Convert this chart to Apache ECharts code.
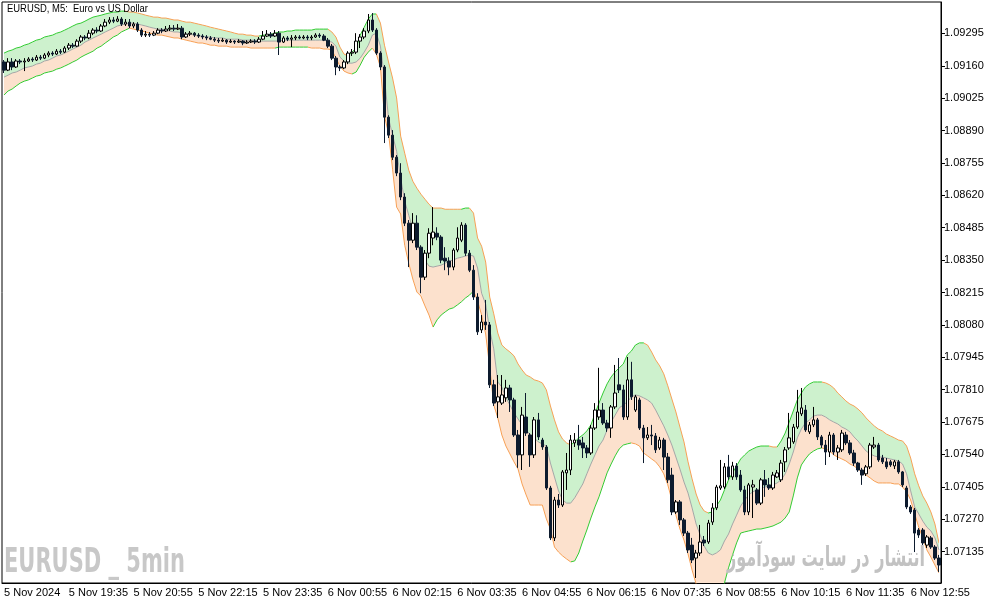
<!DOCTYPE html>
<html>
<head>
<meta charset="UTF-8">
<title>EURUSD M5</title>
<script src="https://cdn.jsdelivr.net/npm/echarts@6/dist/echarts.min.js"></script>
<style>
  html, body { margin: 0; padding: 0; background: #fff; }
  #main { width: 994px; height: 605px; }
</style>
</head>
<body>
<div id="main"></div>
<script>
// bars: 5 Nov 18:15 .. 6 Nov 13:30, one every 5 minutes
var openP = [
1.09176,1.09142,1.09176,1.09155,1.09180,1.09176,1.09180,1.09188,1.09184,1.09196,
1.09192,1.09205,1.09213,1.09209,1.09221,1.09217,1.09234,1.09246,1.09242,1.09263,
1.09280,1.09276,1.09296,1.09309,1.09305,1.09326,1.09342,1.09351,1.09346,1.09355,
1.09334,1.09342,1.09326,1.09334,1.09309,1.09288,1.09292,1.09288,1.09296,1.09309,
1.09305,1.09313,1.09317,1.09313,1.09317,1.09280,1.09292,1.09296,1.09288,1.09284,
1.09280,1.09276,1.09271,1.09267,1.09263,1.09267,1.09259,1.09263,1.09259,1.09263,
1.09255,1.09259,1.09263,1.09259,1.09271,1.09284,1.09292,1.09284,1.09296,1.09259,
1.09276,1.09271,1.09276,1.09280,1.09276,1.09280,1.09276,1.09280,1.09288,1.09284,
1.09267,1.09242,1.09192,1.09155,1.09151,1.09176,1.09213,1.09217,1.09263,1.09280,
1.09305,1.09351,1.09309,1.09213,1.09155,1.08946,1.08871,1.08779,1.08713,1.08613,
1.08504,1.08433,1.08504,1.08404,1.08279,1.08379,1.08442,1.08462,1.08446,1.08358,
1.08346,1.08321,1.08392,1.08433,1.08496,1.08379,1.08308,1.08196,1.08059,1.08092,
1.08080,1.07830,1.07759,1.07754,1.07776,1.07817,1.07767,1.07621,1.07538,1.07696,
1.07621,1.07538,1.07684,1.07600,1.07571,1.07400,1.07192,1.07350,1.07329,1.07463,
1.07475,1.07588,1.07600,1.07588,1.07567,1.07546,1.07650,1.07696,1.07725,1.07671,
1.07650,1.07738,1.07830,1.07809,1.07696,1.07851,1.07725,1.07767,1.07650,1.07609,
1.07621,1.07617,1.07567,1.07600,1.07529,1.07454,1.07300,1.07342,1.07267,1.07212,
1.07162,1.07108,1.07129,1.07183,1.07175,1.07258,1.07317,1.07400,1.07404,1.07488,
1.07446,1.07492,1.07454,1.07392,1.07300,1.07404,1.07392,1.07337,1.07434,1.07413,
1.07400,1.07446,1.07434,1.07509,1.07567,1.07592,1.07654,1.07709,1.07725,1.07634,
1.07663,1.07684,1.07613,1.07579,1.07550,1.07621,1.07550,1.07559,1.07621,1.07588,
1.07546,1.07504,1.07475,1.07459,1.07488,1.07571,1.07579,1.07525,1.07509,1.07509,
1.07492,1.07509,1.07467,1.07400,1.07321,1.07308,1.07225,1.07225,1.07162,1.07192,
1.07154,1.07108
];
var closeP = [
1.09142,1.09176,1.09155,1.09180,1.09176,1.09180,1.09188,1.09184,1.09196,1.09192,
1.09205,1.09213,1.09209,1.09221,1.09217,1.09234,1.09246,1.09242,1.09263,1.09280,
1.09276,1.09296,1.09309,1.09305,1.09326,1.09342,1.09351,1.09346,1.09355,1.09334,
1.09342,1.09326,1.09334,1.09309,1.09288,1.09292,1.09288,1.09296,1.09309,1.09305,
1.09313,1.09317,1.09313,1.09317,1.09280,1.09292,1.09296,1.09288,1.09284,1.09280,
1.09276,1.09271,1.09267,1.09263,1.09267,1.09259,1.09263,1.09259,1.09263,1.09255,
1.09259,1.09263,1.09259,1.09271,1.09284,1.09292,1.09284,1.09296,1.09259,1.09276,
1.09271,1.09276,1.09280,1.09276,1.09280,1.09276,1.09280,1.09288,1.09284,1.09267,
1.09242,1.09192,1.09155,1.09151,1.09176,1.09213,1.09217,1.09263,1.09280,1.09305,
1.09351,1.09309,1.09213,1.09155,1.08946,1.08871,1.08779,1.08713,1.08613,1.08504,
1.08433,1.08504,1.08404,1.08279,1.08379,1.08462,1.08467,1.08446,1.08350,1.08346,
1.08321,1.08392,1.08442,1.08496,1.08379,1.08308,1.08196,1.08051,1.08092,1.08080,
1.07830,1.07754,1.07780,1.07788,1.07817,1.07767,1.07621,1.07538,1.07704,1.07629,
1.07538,1.07684,1.07613,1.07571,1.07400,1.07192,1.07350,1.07329,1.07467,1.07475,
1.07600,1.07600,1.07579,1.07567,1.07546,1.07650,1.07725,1.07725,1.07671,1.07650,
1.07738,1.07796,1.07809,1.07696,1.07851,1.07780,1.07780,1.07650,1.07609,1.07621,
1.07617,1.07559,1.07600,1.07529,1.07434,1.07300,1.07342,1.07267,1.07212,1.07142,
1.07100,1.07129,1.07175,1.07171,1.07254,1.07317,1.07404,1.07409,1.07488,1.07446,
1.07492,1.07446,1.07392,1.07300,1.07413,1.07413,1.07337,1.07434,1.07413,1.07400,
1.07454,1.07463,1.07504,1.07559,1.07609,1.07654,1.07717,1.07734,1.07642,1.07663,
1.07684,1.07613,1.07579,1.07550,1.07621,1.07550,1.07567,1.07629,1.07588,1.07546,
1.07504,1.07475,1.07454,1.07488,1.07579,1.07579,1.07517,1.07509,1.07488,1.07496,
1.07509,1.07467,1.07413,1.07321,1.07300,1.07212,1.07204,1.07171,1.07196,1.07154,
1.07108,1.07079
];
var highP = [
1.09184,1.09192,1.09192,1.09188,1.09188,1.09192,1.09196,1.09196,1.09205,1.09205,
1.09213,1.09221,1.09221,1.09230,1.09230,1.09242,1.09255,1.09255,1.09271,1.09288,
1.09288,1.09309,1.09317,1.09321,1.09334,1.09355,1.09363,1.09363,1.09367,1.09363,
1.09355,1.09355,1.09342,1.09342,1.09317,1.09305,1.09301,1.09305,1.09317,1.09317,
1.09326,1.09330,1.09330,1.09334,1.09326,1.09301,1.09305,1.09301,1.09296,1.09292,
1.09288,1.09284,1.09280,1.09276,1.09276,1.09271,1.09271,1.09267,1.09271,1.09267,
1.09267,1.09271,1.09271,1.09280,1.09305,1.09309,1.09301,1.09309,1.09305,1.09284,
1.09284,1.09288,1.09288,1.09288,1.09288,1.09288,1.09288,1.09296,1.09296,1.09292,
1.09276,1.09251,1.09201,1.09163,1.09184,1.09221,1.09230,1.09296,1.09292,1.09317,
1.09376,1.09380,1.09317,1.09221,1.09163,1.08954,1.08892,1.08788,1.08754,1.08629,
1.08517,1.08546,1.08537,1.08412,1.08392,1.08483,1.08571,1.08487,1.08454,1.08404,
1.08362,1.08400,1.08487,1.08508,1.08504,1.08392,1.08329,1.08212,1.08121,1.08184,
1.08092,1.07851,1.07871,1.07871,1.07851,1.07830,1.07776,1.07642,1.07738,1.07796,
1.07629,1.07696,1.07713,1.07609,1.07579,1.07409,1.07363,1.07375,1.07475,1.07546,
1.07621,1.07629,1.07663,1.07613,1.07579,1.07663,1.07754,1.07901,1.07754,1.07684,
1.07746,1.07913,1.07942,1.07830,1.07946,1.07926,1.07788,1.07776,1.07663,1.07654,
1.07663,1.07629,1.07613,1.07609,1.07546,1.07484,1.07350,1.07350,1.07275,1.07221,
1.07192,1.07142,1.07246,1.07200,1.07267,1.07337,1.07413,1.07517,1.07504,1.07538,
1.07509,1.07504,1.07475,1.07409,1.07421,1.07434,1.07400,1.07442,1.07475,1.07442,
1.07467,1.07475,1.07517,1.07571,1.07713,1.07667,1.07809,1.07817,1.07746,1.07675,
1.07738,1.07692,1.07621,1.07600,1.07634,1.07629,1.07579,1.07642,1.07634,1.07600,
1.07559,1.07509,1.07484,1.07496,1.07588,1.07613,1.07588,1.07538,1.07525,1.07517,
1.07517,1.07517,1.07471,1.07409,1.07329,1.07317,1.07233,1.07233,1.07204,1.07200,
1.07162,1.07121
];
var lowP = [
1.09130,1.09138,1.09142,1.09151,1.09167,1.09138,1.09176,1.09176,1.09180,1.09184,
1.09188,1.09196,1.09201,1.09205,1.09209,1.09213,1.09226,1.09234,1.09238,1.09255,
1.09267,1.09271,1.09288,1.09296,1.09301,1.09321,1.09334,1.09338,1.09342,1.09326,
1.09326,1.09317,1.09317,1.09301,1.09280,1.09280,1.09280,1.09284,1.09292,1.09296,
1.09301,1.09305,1.09305,1.09309,1.09271,1.09276,1.09284,1.09280,1.09276,1.09271,
1.09267,1.09267,1.09259,1.09255,1.09259,1.09251,1.09255,1.09251,1.09255,1.09246,
1.09251,1.09255,1.09251,1.09255,1.09267,1.09280,1.09276,1.09280,1.09205,1.09255,
1.09263,1.09238,1.09267,1.09271,1.09271,1.09267,1.09267,1.09276,1.09276,1.09263,
1.09234,1.09184,1.09121,1.09138,1.09146,1.09167,1.09201,1.09209,1.09234,1.09271,
1.09296,1.09301,1.09205,1.09142,1.08838,1.08859,1.08767,1.08700,1.08600,1.08492,
1.08321,1.08421,1.08392,1.08212,1.08267,1.08358,1.08412,1.08433,1.08337,1.08308,
1.08287,1.08308,1.08383,1.08425,1.08367,1.08300,1.08184,1.08038,1.08046,1.08059,
1.07817,1.07742,1.07692,1.07746,1.07759,1.07717,1.07613,1.07484,1.07475,1.07617,
1.07488,1.07525,1.07600,1.07559,1.07392,1.07183,1.07179,1.07317,1.07321,1.07392,
1.07454,1.07571,1.07559,1.07525,1.07525,1.07538,1.07642,1.07684,1.07663,1.07634,
1.07609,1.07729,1.07796,1.07684,1.07684,1.07767,1.07717,1.07642,1.07504,1.07600,
1.07579,1.07546,1.07559,1.07475,1.07421,1.07287,1.07292,1.07246,1.07200,1.07129,
1.07087,1.07025,1.07117,1.07158,1.07167,1.07246,1.07308,1.07392,1.07396,1.07434,
1.07434,1.07434,1.07384,1.07287,1.07287,1.07275,1.07329,1.07329,1.07363,1.07392,
1.07392,1.07442,1.07425,1.07467,1.07559,1.07584,1.07646,1.07700,1.07634,1.07625,
1.07654,1.07600,1.07567,1.07496,1.07529,1.07538,1.07517,1.07550,1.07579,1.07538,
1.07492,1.07467,1.07413,1.07450,1.07479,1.07563,1.07509,1.07500,1.07479,1.07488,
1.07479,1.07459,1.07404,1.07312,1.07292,1.07133,1.07192,1.07162,1.07150,1.07146,
1.07100,1.07050
];
// channel: upper edge, centre line, lower edge
var upperBand = [
1.09213,1.09221,1.09226,1.09234,1.09238,1.09246,1.09251,1.09259,1.09267,1.09271,
1.09280,1.09284,1.09288,1.09296,1.09301,1.09309,1.09317,1.09326,1.09334,1.09338,
1.09346,1.09355,1.09363,1.09367,1.09371,1.09376,1.09380,1.09384,1.09384,1.09388,
1.09388,1.09384,1.09384,1.09380,1.09376,1.09371,1.09367,1.09363,1.09363,1.09359,
1.09359,1.09355,1.09351,1.09351,1.09346,1.09342,1.09342,1.09338,1.09334,1.09330,
1.09326,1.09321,1.09317,1.09313,1.09309,1.09305,1.09301,1.09296,1.09292,1.09292,
1.09288,1.09288,1.09284,1.09284,1.09288,1.09288,1.09292,1.09296,1.09301,1.09301,
1.09305,1.09305,1.09309,1.09309,1.09309,1.09309,1.09309,1.09313,1.09313,1.09313,
1.09313,1.09301,1.09280,1.09238,1.09209,1.09201,1.09217,1.09234,1.09288,1.09321,
1.09355,1.09376,1.09376,1.09338,1.09246,1.09176,1.09109,1.09026,1.08867,1.08796,
1.08725,1.08679,1.08650,1.08625,1.08604,1.08583,1.08567,1.08567,1.08567,1.08562,
1.08562,1.08562,1.08562,1.08562,1.08567,1.08567,1.08546,1.08442,1.08408,1.08342,
1.08196,1.08126,1.08046,1.07996,1.07980,1.07967,1.07951,1.07917,1.07892,1.07871,
1.07863,1.07851,1.07846,1.07838,1.07809,1.07742,1.07684,1.07634,1.07604,1.07588,
1.07579,1.07592,1.07609,1.07621,1.07638,1.07663,1.07709,1.07754,1.07796,1.07834,
1.07863,1.07884,1.07901,1.07917,1.07955,1.07971,1.07996,1.08005,1.08005,1.07996,
1.07967,1.07934,1.07909,1.07876,1.07826,1.07771,1.07717,1.07654,1.07592,1.07509,
1.07438,1.07375,1.07329,1.07304,1.07296,1.07300,1.07325,1.07350,1.07392,1.07434,
1.07463,1.07492,1.07521,1.07538,1.07554,1.07563,1.07571,1.07575,1.07575,1.07575,
1.07571,1.07571,1.07596,1.07629,1.07675,1.07721,1.07767,1.07796,1.07821,1.07834,
1.07842,1.07842,1.07842,1.07838,1.07830,1.07817,1.07796,1.07780,1.07763,1.07750,
1.07742,1.07729,1.07713,1.07692,1.07675,1.07659,1.07646,1.07638,1.07625,1.07617,
1.07609,1.07600,1.07596,1.07575,1.07525,1.07459,1.07409,1.07367,1.07337,1.07300,
1.07250,1.07171
];
var middleBand = [
1.09113,1.09121,1.09130,1.09134,1.09142,1.09151,1.09155,1.09159,1.09167,1.09171,
1.09180,1.09184,1.09192,1.09201,1.09205,1.09213,1.09221,1.09230,1.09238,1.09246,
1.09259,1.09267,1.09276,1.09284,1.09292,1.09301,1.09309,1.09317,1.09326,1.09330,
1.09334,1.09338,1.09338,1.09334,1.09330,1.09326,1.09321,1.09317,1.09313,1.09313,
1.09309,1.09305,1.09301,1.09301,1.09296,1.09292,1.09292,1.09288,1.09284,1.09284,
1.09280,1.09280,1.09276,1.09276,1.09276,1.09271,1.09271,1.09271,1.09271,1.09267,
1.09267,1.09267,1.09267,1.09263,1.09263,1.09263,1.09263,1.09263,1.09263,1.09267,
1.09267,1.09267,1.09267,1.09267,1.09267,1.09267,1.09267,1.09267,1.09267,1.09267,
1.09263,1.09259,1.09242,1.09196,1.09180,1.09171,1.09171,1.09176,1.09192,1.09217,
1.09246,1.09288,1.09296,1.09242,1.09109,1.08942,1.08871,1.08804,1.08692,1.08596,
1.08537,1.08479,1.08425,1.08375,1.08350,1.08325,1.08321,1.08325,1.08329,1.08337,
1.08346,1.08350,1.08358,1.08362,1.08367,1.08371,1.08367,1.08317,1.08212,1.08167,
1.08059,1.07980,1.07842,1.07821,1.07776,1.07746,1.07713,1.07688,1.07663,1.07638,
1.07625,1.07609,1.07592,1.07584,1.07575,1.07504,1.07446,1.07388,1.07350,1.07337,
1.07337,1.07359,1.07388,1.07417,1.07459,1.07500,1.07538,1.07575,1.07600,1.07642,
1.07675,1.07704,1.07734,1.07746,1.07759,1.07780,1.07788,1.07784,1.07776,1.07767,
1.07754,1.07725,1.07692,1.07659,1.07621,1.07579,1.07529,1.07479,1.07425,1.07379,
1.07317,1.07250,1.07204,1.07158,1.07129,1.07121,1.07129,1.07142,1.07179,1.07208,
1.07250,1.07287,1.07325,1.07350,1.07371,1.07384,1.07392,1.07400,1.07404,1.07409,
1.07413,1.07421,1.07434,1.07459,1.07500,1.07550,1.07609,1.07646,1.07671,1.07684,
1.07700,1.07704,1.07704,1.07696,1.07684,1.07675,1.07667,1.07654,1.07646,1.07634,
1.07613,1.07596,1.07575,1.07554,1.07542,1.07534,1.07529,1.07529,1.07525,1.07521,
1.07517,1.07513,1.07500,1.07459,1.07388,1.07321,1.07292,1.07262,1.07237,1.07221,
1.07192,1.07142
];
var lowerBand = [
1.09038,1.09055,1.09063,1.09076,1.09088,1.09096,1.09101,1.09109,1.09117,1.09121,
1.09130,1.09134,1.09138,1.09146,1.09151,1.09159,1.09167,1.09176,1.09184,1.09196,
1.09205,1.09213,1.09221,1.09234,1.09242,1.09255,1.09267,1.09280,1.09288,1.09301,
1.09309,1.09317,1.09313,1.09309,1.09305,1.09301,1.09296,1.09292,1.09288,1.09288,
1.09284,1.09280,1.09276,1.09276,1.09271,1.09267,1.09263,1.09259,1.09255,1.09255,
1.09251,1.09246,1.09246,1.09242,1.09242,1.09242,1.09238,1.09238,1.09238,1.09238,
1.09238,1.09234,1.09234,1.09234,1.09234,1.09234,1.09234,1.09234,1.09238,1.09238,
1.09238,1.09238,1.09238,1.09238,1.09238,1.09238,1.09234,1.09234,1.09234,1.09230,
1.09230,1.09226,1.09192,1.09159,1.09138,1.09130,1.09126,1.09134,1.09163,1.09196,
1.09217,1.09234,1.09209,1.09155,1.08950,1.08879,1.08729,1.08571,1.08542,1.08412,
1.08337,1.08271,1.08217,1.08200,1.08159,1.08121,1.08071,1.08101,1.08121,1.08134,
1.08146,1.08151,1.08163,1.08176,1.08192,1.08204,1.08221,1.08180,1.08121,1.08042,
1.07905,1.07746,1.07692,1.07621,1.07575,1.07542,1.07509,1.07479,1.07417,1.07371,
1.07329,1.07329,1.07329,1.07329,1.07271,1.07229,1.07154,1.07133,1.07117,1.07104,
1.07092,1.07096,1.07129,1.07179,1.07225,1.07275,1.07321,1.07363,1.07413,1.07463,
1.07500,1.07534,1.07563,1.07579,1.07584,1.07588,1.07584,1.07575,1.07546,1.07534,
1.07521,1.07509,1.07488,1.07459,1.07413,1.07350,1.07287,1.07229,1.07183,1.07125,
1.07058,1.07000,1.06958,1.06937,1.06926,1.06921,1.06934,1.06954,1.07004,1.07067,
1.07121,1.07171,1.07212,1.07217,1.07221,1.07225,1.07229,1.07229,1.07233,1.07237,
1.07242,1.07250,1.07258,1.07275,1.07300,1.07367,1.07442,1.07496,1.07521,1.07542,
1.07554,1.07563,1.07567,1.07563,1.07554,1.07538,1.07529,1.07521,1.07513,1.07500,
1.07492,1.07479,1.07467,1.07454,1.07442,1.07429,1.07421,1.07421,1.07421,1.07421,
1.07417,1.07417,1.07404,1.07384,1.07350,1.07292,1.07237,1.07192,1.07142,1.07112,
1.07079,1.07046
];
var tickLabels = ['5 Nov 2024', '5 Nov 19:35', '5 Nov 20:55', '5 Nov 22:15', '5 Nov 23:35',
  '6 Nov 00:55', '6 Nov 02:15', '6 Nov 03:35', '6 Nov 04:55', '6 Nov 06:15', '6 Nov 07:35',
  '6 Nov 08:55', '6 Nov 10:15', '6 Nov 11:35', '6 Nov 12:55'];
var priceTicks = [1.07135, 1.07270, 1.07405, 1.07540, 1.07675, 1.07810, 1.07945, 1.08080,
  1.08215, 1.08350, 1.08485, 1.08620, 1.08755, 1.08890, 1.09025, 1.09160, 1.09295];

var barsPerLabel = 16;
var n = openP.length;

// category names: bar times
var times = [];
for (var i = 0; i < n; i++) {
    var m = 18 * 60 + 15 + i * 5;
    var day = m >= 1440 ? 6 : 5;
    m = m % 1440;
    times.push(day + ' Nov ' + ('0' + Math.floor(m / 60)).slice(-2) + ':' + ('0' + (m % 60)).slice(-2));
}

var candles = [];
for (var i = 0; i < n; i++) {
    candles.push([openP[i], closeP[i], lowP[i], highP[i]]);
}
// stacked pieces for the two coloured fills
var fillLow = [], fillHigh = [];
for (var i = 0; i < n; i++) {
    fillLow.push(+(middleBand[i] - lowerBand[i]).toFixed(6));
    fillHigh.push(+(upperBand[i] - middleBand[i]).toFixed(6));
}

// green where the edge rises, orange where it falls
function slopePieces(arr) {
    var pieces = [];
    var start = 0;
    var up = arr[1] >= arr[0];
    for (var k = 1; k < arr.length - 1; k++) {
        var r = arr[k + 1] > arr[k] ? true : (arr[k + 1] < arr[k] ? false : up);
        if (r !== up) {
            pieces.push({ gte: start, lt: k, color: up ? '#33cc33' : '#f7a055' });
            start = k;
            up = r;
        }
    }
    pieces.push({ gte: start, lte: arr.length - 1, color: up ? '#33cc33' : '#f7a055' });
    return pieces;
}

function fitScale(text, font, width) {
    var ctx = document.createElement('canvas').getContext('2d');
    ctx.font = font;
    return width / ctx.measureText(text).width;
}

var titleFont = '11px "Liberation Sans", sans-serif';
var titleText = 'EURUSD, M5:  Euro vs US Dollar';
var wmFont = 'bold 34px "Liberation Sans Narrow", "DejaVu Sans Condensed", sans-serif';
var wmText = 'EURUSD _ 5min';
var faFont = 'bold 27px "DejaVu Sans", sans-serif';
var faText = 'انتشار در سایت سودآموز';

var myChart = echarts.init(document.getElementById('main'));

var option = {
    animation: false,
    backgroundColor: '#ffffff',
    grid: {
        left: 2, right: 53, top: 2, bottom: 22,
        show: true, borderColor: '#000000', borderWidth: 1, backgroundColor: 'transparent'
    },
    xAxis: {
        type: 'category',
        data: times,
        boundaryGap: true,
        axisLine: { lineStyle: { color: '#000000', width: 1 } },
        axisTick: {
            alignWithLabel: true, length: 4,
            interval: function (idx) { return idx % barsPerLabel === 0; },
            lineStyle: { color: '#000000' }
        },
        axisLabel: {
            interval: function (idx) { return idx % barsPerLabel === 0; },
            formatter: function (v, idx) { return tickLabels[idx / barsPerLabel] || ''; },
            align: 'left', margin: 4,
            color: '#000000', fontSize: 11, fontFamily: '"Liberation Sans", sans-serif'
        },
        splitLine: { show: false }
    },
    yAxis: {
        type: 'value',
        position: 'right',
        min: 1.07004,
        max: 1.09426,
        axisLine: { show: true, lineStyle: { color: '#000000', width: 1 } },
        axisTick: { show: true, length: 4, customValues: priceTicks, lineStyle: { color: '#000000' } },
        axisLabel: {
            customValues: priceTicks,
            formatter: function (v) { return v.toFixed(5); },
            margin: 3,
            color: '#000000', fontSize: 11, fontFamily: '"Liberation Sans", sans-serif'
        },
        splitLine: { show: false }
    },
    visualMap: [
        { type: 'piecewise', show: false, dimension: 0, seriesIndex: 3, pieces: slopePieces(upperBand) },
        { type: 'piecewise', show: false, dimension: 0, seriesIndex: 5, pieces: slopePieces(lowerBand) }
    ],
    series: [
        {
            name: 'base', type: 'line', data: lowerBand, stack: 'band', silent: true,
            showSymbol: false, lineStyle: { width: 0, opacity: 0 }, z: 1
        },
        {
            name: 'fillLow', type: 'line', data: fillLow, stack: 'band', silent: true,
            showSymbol: false, lineStyle: { width: 0, opacity: 0 },
            areaStyle: { color: '#fce1cd', opacity: 1 }, z: 1
        },
        {
            name: 'fillHigh', type: 'line', data: fillHigh, stack: 'band', silent: true,
            showSymbol: false, lineStyle: { width: 0, opacity: 0 },
            areaStyle: { color: '#cdf1cd', opacity: 1 }, z: 1
        },
        {
            name: 'upper', type: 'line', data: upperBand, silent: true,
            showSymbol: false, lineStyle: { width: 1 }, z: 2
        },
        {
            name: 'middle', type: 'line', data: middleBand, silent: true,
            showSymbol: false, lineStyle: { width: 1, color: '#a6a6a6' }, z: 2
        },
        {
            name: 'lower', type: 'line', data: lowerBand, silent: true,
            showSymbol: false, lineStyle: { width: 1 }, z: 2
        },
        {
            name: 'EURUSD', type: 'candlestick', data: candles, barWidth: 3, z: 5,
            itemStyle: {
                color: '#ffffff', color0: '#0d1b2e',
                borderColor: '#000000', borderColor0: '#0d1b2e', borderWidth: 1
            }
        }
    ],
    graphic: [
        {
            type: 'text', x: 7, y: 3, z: 10,
            scaleX: fitScale(titleText, titleFont, 141),
            style: { text: titleText, fill: '#000000', font: titleFont, align: 'left', verticalAlign: 'top' }
        },
        {
            type: 'text', x: 4, y: 546, z: 10,
            scaleX: fitScale(wmText, wmFont, 181),
            style: { text: wmText, fill: '#c8c8c8', font: wmFont, align: 'left', verticalAlign: 'top' }
        },
        {
            type: 'text', x: 727, y: 545, z: 10,
            scaleX: fitScale(faText, faFont, 198),
            style: { text: faText, fill: '#c2c2c2', font: faFont, align: 'left', verticalAlign: 'top' }
        }
    ]
};

myChart.setOption(option);
</script>
</body>
</html>
